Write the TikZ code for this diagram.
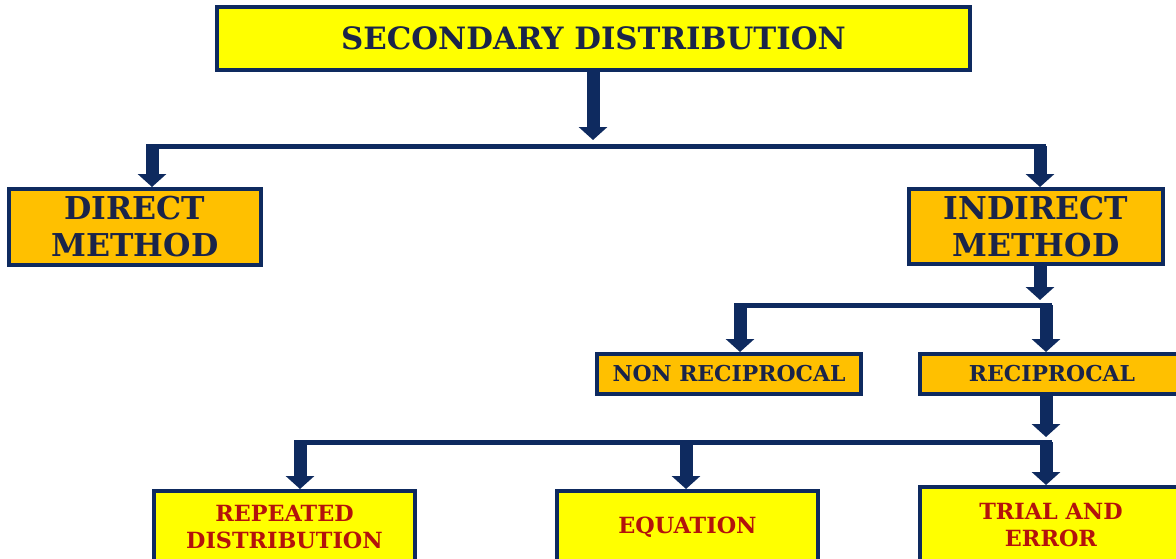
\documentclass[tikz,border=0pt]{standalone}
\usepackage{fontspec}
\setmainfont{DejaVu Serif}
\usetikzlibrary{arrows.meta}
\definecolor{navy}{HTML}{0E2A5F}
\definecolor{inknavy}{HTML}{1A2449}
\definecolor{boxyellow}{HTML}{FFFF00}
\definecolor{boxorange}{HTML}{FFC000}
\definecolor{inkred}{HTML}{B3120C}
\begin{document}
\begin{tikzpicture}[x=1pt,y=-1pt,
  box/.style={draw=navy,line width=4pt,inner sep=0pt,align=center},
  ybox/.style={box,fill=boxyellow},
  obox/.style={box,fill=boxorange,text=inknavy},
  flow/.style={draw=navy,line width=13pt,-{Triangle[width=28pt,length=13pt]}},
  bus/.style={draw=navy,line width=5pt}]
\useasboundingbox (0,0) rectangle (1176,558);

% boxes
\node[ybox,text=inknavy,minimum width=753pt,minimum height=63pt,
      font=\fontsize{30.8}{35}\selectfont\bfseries] (top) at (593.5,38.5)
      {SECONDARY DISTRIBUTION};
\node[obox,minimum width=252pt,minimum height=76pt,
      font=\fontsize{31.5}{37}\selectfont\bfseries] (direct) at (135,227)
      {DIRECT\\METHOD};
\node[obox,minimum width=254pt,minimum height=75pt,
      font=\fontsize{31.5}{37}\selectfont\bfseries] (indirect) at (1036,226.5)
      {INDIRECT\\METHOD};
\node[obox,minimum width=264pt,minimum height=40pt,
      font=\fontsize{21.9}{26}\selectfont\bfseries] (nonrec) at (729,374)
      {NON RECIPROCAL};
\node[obox,minimum width=264pt,minimum height=40pt,
      font=\fontsize{21.9}{26}\selectfont\bfseries] (rec) at (1052,374)
      {RECIPROCAL};
\node[ybox,text=inkred,minimum width=261pt,minimum height=73pt,
      font=\fontsize{22.3}{27}\selectfont\bfseries] (repeated) at (284.5,527.5)
      {REPEATED\\DISTRIBUTION};
\node[ybox,text=inkred,minimum width=261pt,minimum height=73pt,
      font=\fontsize{22.3}{27}\selectfont\bfseries] (equation) at (687.5,527.5)
      {EQUATION};
\node[ybox,text=inkred,minimum width=262pt,minimum height=77pt,
      font=\fontsize{22.3}{27}\selectfont\bfseries] (trial) at (1051,525.5)
      {TRIAL AND\\ERROR};

% first level split
\coordinate (s1) at (593,140);
\coordinate (b1l) at (146,146);
\coordinate (b1r) at (1046,146);
\coordinate (d1) at (152,146);
\coordinate (d2) at (1040,146);
\draw[flow] (top.south -| s1) -- (s1);
\draw[bus] (b1l) -- (b1r);
\draw[flow] (d1) -- (d1 |- direct.north);
\draw[flow] (d2) -- (d2 |- indirect.north);

% indirect method split
\coordinate (s2) at (1040,300);
\coordinate (b2l) at (734,305);
\coordinate (b2r) at (1052,305);
\coordinate (d3) at (740,305);
\coordinate (d4) at (1046,305);
\draw[flow] (indirect.south -| s2) -- (s2);
\draw[bus] (b2l) -- (b2r);
\draw[flow] (d3) -- (d3 |- nonrec.north);
\draw[flow] (d4) -- (d4 |- rec.north);

% reciprocal split
\coordinate (s3) at (1046,437);
\coordinate (b3l) at (294,442);
\coordinate (b3r) at (1052,442);
\coordinate (d5) at (300,442);
\coordinate (d6) at (686,442);
\coordinate (d7) at (1046,442);
\draw[flow] (rec.south -| s3) -- (s3);
\draw[bus] (b3l) -- (b3r);
\draw[flow] (d5) -- (d5 |- repeated.north);
\draw[flow] (d6) -- (d6 |- equation.north);
\draw[flow] (d7) -- (d7 |- trial.north);
\end{tikzpicture}
\end{document}
